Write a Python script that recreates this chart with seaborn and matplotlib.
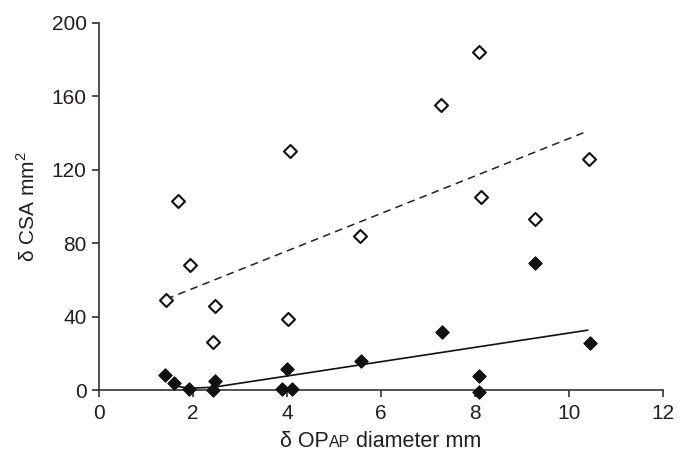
import matplotlib
matplotlib.use("Agg")
import matplotlib.pyplot as plt
import seaborn as sns

# Change in cross-sectional area vs change in OP AP diameter
open_x = [1.43, 1.69, 1.94, 2.47, 2.43, 4.03, 4.07, 5.55, 7.28, 8.08, 8.13, 9.28, 10.43]
open_y = [49, 103, 68, 46, 26, 38.6, 130, 84, 155, 184, 105, 93, 126]

filled_x = [1.40, 1.60, 1.91, 2.43, 2.47, 3.90, 4.01, 4.11, 5.57, 7.30, 8.09, 8.09, 9.28, 10.45]
filled_y = [8, 3.6, 0.4, 0, 4.9, 0.4, 11.4, 0.4, 15.8, 31.4, 7.6, -1.3, 69, 25.4]

# Trend lines
dashed_x = [1.43, 10.40]
dashed_y = [49.5, 141]
solid_x = [1.62, 1.92, 2.43, 10.40]
solid_y = [2.2, 1.0, 1.5, 32.6]

x_ticks = [0, 2, 4, 6, 8, 10, 12]
y_ticks = [0, 40, 80, 120, 160, 200]

sns.set_theme(style="ticks")
plt.rcParams["font.family"] = ["Liberation Sans", "DejaVu Sans"]
plt.rcParams["mathtext.fontset"] = "custom"
plt.rcParams["mathtext.rm"] = "Liberation Sans"

fig = plt.figure(figsize=(6.88, 4.53), dpi=100)
ax = fig.add_axes([0.1439, 0.139, 0.8198, 0.811])

axis_col = "#333333"
text_col = "#231f20"

sns.lineplot(x=dashed_x, y=dashed_y, ax=ax, color="#222222", lw=1.1,
             linestyle=(0, (5, 3.5)), sort=False, estimator=None)
sns.lineplot(x=solid_x, y=solid_y, ax=ax, color="#111111", lw=1.2,
             sort=False, estimator=None)

sns.scatterplot(x=open_x, y=open_y, ax=ax, marker="D", s=44,
                facecolor="white", edgecolor="#111111", linewidth=1.5,
                clip_on=False, zorder=5)
sns.scatterplot(x=filled_x, y=filled_y, ax=ax, marker="D", s=44,
                color="#111111", edgecolor="#111111", linewidth=1.0,
                clip_on=False, zorder=5)

ax.set_xlim(0, 12)
ax.set_ylim(0, 200)
ax.set_xticks(x_ticks)
ax.set_yticks(y_ticks)
ax.tick_params(axis="both", labelsize=15, colors=text_col, direction="out",
               length=5, width=1.1)
ax.tick_params(axis="y", pad=4)
ax.tick_params(axis="x", pad=5)
for side in ("top", "right"):
    ax.spines[side].set_visible(False)
for side in ("left", "bottom"):
    ax.spines[side].set_color(axis_col)
    ax.spines[side].set_linewidth(1.2)

ax.set_ylabel("δ CSA mm$^{\\mathrm{2}}$", fontsize=15, color=text_col, labelpad=9)

# x label with small-caps "AP" sitting on the same baseline
main_size, small_size = 15.5, 11.5
shift = 0.21 * (main_size - small_size)
t1 = fig.text(0.5, 0.014, "δ OP", fontsize=main_size, color=text_col,
              ha="left", va="baseline")
t2 = ax.annotate("AP", xy=(1, 0), xycoords=t1, xytext=(0, shift),
                 textcoords="offset points", fontsize=small_size,
                 color=text_col, ha="left", va="bottom")
t3 = ax.annotate(" diameter mm", xy=(1, 0), xycoords=t2, xytext=(0, -shift),
                 textcoords="offset points", fontsize=main_size,
                 color=text_col, ha="left", va="bottom")
fig.canvas.draw()
r = fig.canvas.get_renderer()
width = (t3.get_window_extent(r).x1 - t1.get_window_extent(r).x0)
cx = (0.1439 + 0.8198 / 2) * fig.bbox.width
t1.set_x((cx - width / 2) / fig.bbox.width)

fig.savefig("out.png", dpi=100)
